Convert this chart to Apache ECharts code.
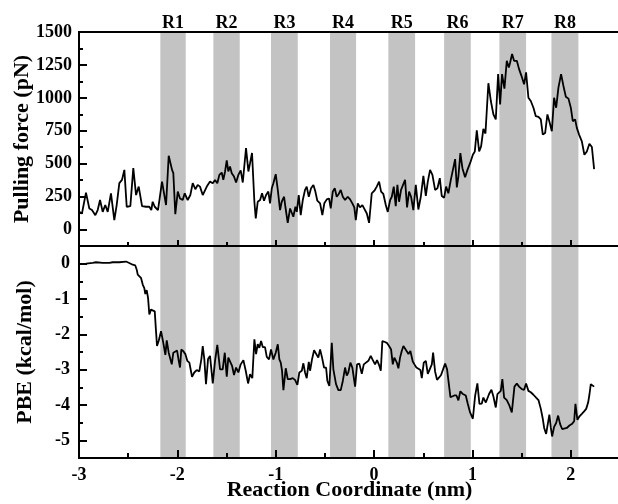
<!DOCTYPE html>
<html>
<head>
<meta charset="utf-8">
<script src="https://cdn.jsdelivr.net/npm/echarts@6/dist/echarts.min.js"></script>
<style>
  html, body { margin: 0; padding: 0; background: #fff; }
  #chart { width: 618px; height: 504px; }
</style>
</head>
<body>
<div id="chart"></div>
<script>
// pulling force (pN) vs reaction coordinate (nm)
var forceX = [-2.997,-2.970,-2.929,-2.895,-2.868,-2.834,-2.810,-2.786,-2.759,-2.733,
  -2.708,-2.675,-2.641,-2.617,-2.590,-2.563,-2.539,-2.515,-2.478,-2.448,
  -2.420,-2.393,-2.359,-2.319,-2.285,-2.265,-2.251,-2.230,-2.214,-2.197,
  -2.183,-2.156,-2.136,-2.115,-2.088,-2.054,-2.041,-2.021,-1.996,-1.973,
  -1.946,-1.925,-1.895,-1.868,-1.844,-1.817,-1.793,-1.770,-1.742,-1.701,
  -1.668,-1.640,-1.617,-1.594,-1.573,-1.549,-1.533,-1.515,-1.498,-1.482,
  -1.465,-1.447,-1.424,-1.403,-1.380,-1.356,-1.335,-1.302,-1.278,-1.261,
  -1.241,-1.217,-1.203,-1.183,-1.159,-1.139,-1.119,-1.098,-1.075,-1.058,
  -1.040,-1.024,-1.000,-0.979,-0.956,-0.939,-0.915,-0.902,-0.878,-0.854,
  -0.834,-0.821,-0.800,-0.786,-0.766,-0.746,-0.725,-0.702,-0.685,-0.664,
  -0.641,-0.617,-0.597,-0.577,-0.549,-0.526,-0.506,-0.481,-0.458,-0.441,
  -0.420,-0.400,-0.380,-0.359,-0.339,-0.318,
  -0.295,-0.268,-0.244,-0.221,-0.201,-0.186,-0.166,-0.143,-0.119,-0.099,
  -0.074,-0.051,-0.024,0.003,0.027,0.051,0.071,0.094,0.119,0.139,
  0.163,0.180,0.200,0.220,0.237,0.254,0.274,0.292,0.315,0.335,
  0.356,0.376,0.399,0.424,0.450,0.475,0.501,0.526,0.546,0.569,
  0.593,0.620,0.644,0.668,0.688,0.712,0.732,0.755,0.780,0.796,
  0.824,0.841,0.857,0.877,0.898,0.925,0.949,
  0.976,1.004,1.024,1.044,1.068,1.088,1.111,1.132,1.162,1.187,
  1.213,1.237,1.261,1.281,1.301,1.325,1.349,1.370,1.383,1.403,
  1.423,1.451,1.474,1.498,1.525,1.545,1.569,1.593,1.620,1.644,
  1.671,1.695,1.715,1.739,1.762,1.782,1.807,1.830,1.851,1.874,
  1.901,1.925,1.949,1.976,2.000,2.020,2.044,2.061,2.084,2.112,
  2.138,2.163,2.189,2.214,2.237];
var forceY = [134,122,280,160,148,109,148,224,134,186,
  134,275,71,186,352,377,453,173,178,466,
  262,326,178,173,173,148,211,173,186,148,
  134,364,377,186,560,453,428,117,288,236,
  224,275,224,262,352,306,339,326,262,326,
  364,352,377,352,415,433,377,441,525,441,
  479,428,402,357,415,449,357,619,441,504,
  581,211,84,211,224,275,219,262,288,199,
  313,352,420,301,148,211,249,173,51,160,
  122,97,173,134,262,109,224,301,326,249,
  313,339,288,219,199,109,199,229,236,160,
  288,313,249,270,301,249,
  224,249,229,199,168,71,199,168,186,178,
  122,51,275,295,326,364,288,270,186,134,
  224,249,326,178,339,211,301,313,377,168,
  288,249,147,339,152,249,407,255,364,453,
  415,301,313,390,255,242,326,275,377,390,
  535,320,402,581,466,397,453,
  504,568,593,754,593,631,764,729,1111,976,
  874,836,1180,950,1180,1070,1281,1231,1269,1333,
  1281,1281,1218,1167,1103,1193,1001,976,925,861,
  855,836,721,733,874,821,746,1001,925,1078,
  1180,1090,1009,994,925,823,836,772,721,670,
  568,593,652,627,459];

// PBE (kcal/mol) vs reaction coordinate (nm)
var pbeX = [-2.997,-2.929,-2.861,-2.827,-2.759,-2.692,-2.657,-2.590,-2.522,-2.489,
  -2.454,-2.428,-2.413,-2.403,-2.387,-2.370,-2.352,-2.336,-2.326,-2.312,
  -2.298,-2.285,-2.268,-2.251,-2.230,-2.217,-2.207,-2.190,-2.166,-2.143,
  -2.122,-2.108,-2.088,-2.068,-2.057,-2.041,-2.021,-2.003,-1.986,-1.973,
  -1.960,-1.939,-1.919,-1.899,-1.878,-1.851,-1.828,-1.803,-1.777,-1.756,
  -1.742,-1.726,-1.709,-1.688,
  -1.668,-1.640,-1.617,-1.594,-1.566,-1.539,-1.518,-1.498,-1.482,-1.465,
  -1.444,-1.424,-1.403,-1.380,-1.356,-1.329,-1.305,-1.281,-1.261,-1.238,
  -1.217,-1.200,-1.183,-1.167,-1.149,-1.132,-1.109,-1.091,-1.068,-1.048,
  -1.024,-1.000,-0.979,-0.963,-0.949,-0.936,-0.922,-0.898,-0.878,-0.854,
  -0.827,-0.804,-0.780,-0.760,-0.735,-0.719,-0.702,-0.685,-0.664,-0.651,
  -0.631,-0.610,-0.590,-0.567,-0.549,-0.529,-0.509,-0.488,-0.475,-0.455,
  -0.430,-0.414,-0.387,-0.363,-0.339,-0.318,
  -0.295,-0.278,-0.262,-0.241,-0.221,-0.193,-0.173,-0.150,-0.125,-0.105,
  -0.085,-0.058,-0.034,-0.013,0.010,0.030,0.051,0.068,0.084,0.105,
  0.129,0.152,0.173,0.190,0.206,0.231,0.247,0.264,0.281,0.298,
  0.315,0.335,0.349,0.369,0.393,0.410,0.430,0.450,0.471,0.485,
  0.505,0.526,0.546,0.566,0.587,0.600,0.620,0.640,0.661,0.681,
  0.701,0.722,0.742,0.762,0.776,0.796,0.816,0.837,0.857,0.877,
  0.898,0.918,0.932,0.953,
  0.976,1.004,1.027,1.050,1.071,1.095,1.111,1.136,1.152,1.169,
  1.193,1.213,1.237,1.254,1.274,1.288,1.304,1.322,1.349,1.376,
  1.400,1.427,1.451,1.474,1.502,1.525,1.545,1.569,1.593,1.620,
  1.647,1.671,1.695,1.715,1.729,1.749,1.762,1.782,1.797,1.810,
  1.830,1.851,1.871,1.891,1.912,1.932,1.959,1.986,2.010,2.034,
  2.047,2.067,2.088,2.112,2.135,2.156,2.176,2.189,2.203,2.217,
  2.237];
var pbeY = [-0.01,0.00,0.02,0.04,0.02,0.02,0.04,0.04,0.06,0.02,
  -0.03,-0.05,-0.17,-0.31,-0.29,-0.40,-0.59,-0.69,-0.86,-0.75,
  -0.97,-1.44,-1.30,-1.30,-1.35,-1.91,-2.33,-2.19,-1.91,-2.24,
  -2.58,-2.17,-2.52,-2.48,-2.85,-2.52,-2.56,-2.46,-2.75,-2.94,
  -2.43,-2.48,-2.56,-2.75,-2.80,-3.20,-3.08,-3.01,-3.05,-2.70,
  -2.33,-2.70,-3.41,-2.70,
  -2.61,-3.39,-2.75,-2.30,-2.99,-2.99,-2.52,-3.20,-2.66,-2.71,
  -2.89,-3.15,-2.94,-3.08,-2.85,-2.73,-3.03,-3.39,-3.13,-3.24,
  -2.14,-2.56,-2.28,-2.38,-2.19,-2.36,-2.36,-2.64,-2.71,-2.43,
  -2.71,-2.52,-2.28,-2.71,-2.80,-3.03,-3.58,-2.96,-3.27,-3.27,
  -3.24,-3.29,-3.43,-3.08,-3.03,-2.82,-3.08,-3.24,-2.78,-3.03,
  -2.71,-2.45,-2.40,-2.66,-2.43,-2.66,-2.94,-2.94,-3.32,-3.46,
  -2.24,-2.99,-3.41,-3.58,-3.58,-3.32,
  -2.94,-3.17,-3.08,-2.80,-2.94,-3.48,-2.85,-2.83,-3.12,-2.85,
  -2.80,-2.75,-2.61,-2.73,-2.85,-2.73,-2.87,-3.03,-2.19,-2.21,
  -2.24,-2.33,-2.43,-2.85,-2.66,-2.80,-2.96,-2.66,-2.47,-2.33,
  -2.38,-2.49,-2.56,-2.47,-2.77,-2.85,-2.94,-2.89,-3.01,-3.24,
  -2.80,-2.75,-3.12,-3.12,-2.85,-2.52,-3.05,-3.29,-3.22,-3.15,
  -3.12,-2.83,-2.99,-2.94,-3.78,-3.76,-3.73,-3.73,-3.87,-3.61,
  -3.68,-3.66,-3.73,-3.97,
  -4.21,-4.39,-3.74,-3.39,-3.97,-3.96,-3.79,-3.93,-3.97,-3.69,
  -3.57,-3.76,-4.07,-3.69,-3.71,-3.60,-3.27,-3.79,-3.86,-4.02,
  -4.21,-3.48,-3.39,-3.48,-3.55,-3.57,-3.39,-3.60,-3.64,-3.71,
  -3.79,-3.86,-4.11,-4.39,-4.65,-4.82,-4.82,-4.27,-4.65,-4.89,
  -4.62,-4.51,-4.30,-4.54,-4.68,-4.68,-4.65,-4.58,-4.54,-4.46,
  -3.97,-4.42,-4.32,-4.25,-4.18,-4.11,-3.93,-3.71,-3.41,-3.43,
  -3.48];

// shaded regions
var bandNames = ['R1', 'R2', 'R3', 'R4', 'R5', 'R6', 'R7', 'R8'];
var bandStart = [-2.173, -1.634, -1.048, -0.448, 0.145, 0.712, 1.274, 1.803];
var bandEnd = [-1.915, -1.366, -0.776, -0.183, 0.417, 0.983, 1.545, 2.077];

// ticks
var xMajor = [-3, -2, -1, 0, 1, 2];
var xMinor = [-2.5, -1.5, -0.5, 0.5, 1.5, 2.5];
var forceMajor = [0, 250, 500, 750, 1000, 1250, 1500];
var forceMinor = [125, 375, 625, 875, 1125, 1375];
var pbeMajor = [-5, -4, -3, -2, -1, 0];
var pbeMinor = [-4.5, -3.5, -2.5, -1.5, -0.5];

var FONT = 'Liberation Serif';

function zip(xs, ys) {
  var out = [];
  for (var i = 0; i < xs.length; i++) out.push([xs[i], ys[i]]);
  return out;
}

function bands(withLabel) {
  var list = [];
  for (var i = 0; i < bandNames.length; i++) {
    list.push([
      { name: withLabel ? bandNames[i] : '', xAxis: bandStart[i] },
      { xAxis: bandEnd[i] }
    ]);
  }
  return list;
}

function plain(v) {
  return String(v);
}

function xAx(grid, pos, ticks, len, opts) {
  var a = {
    type: 'value', gridIndex: grid, position: pos, min: -3, max: 2.5, z: 10,
    axisLine: { show: true, onZero: false, lineStyle: { color: '#000', width: 2 } },
    axisTick: { show: !!ticks, inside: true, length: len, customValues: ticks || [],
      lineStyle: { color: '#000', width: 2 } },
    axisLabel: { show: false },
    splitLine: { show: false }
  };
  if (opts) for (var k in opts) a[k] = opts[k];
  return a;
}

function yAx(grid, min, max, ticks, len, opts) {
  var a = {
    type: 'value', gridIndex: grid, position: 'left', min: min, max: max, z: 10,
    axisLine: { show: true, onZero: false, lineStyle: { color: '#000', width: 2 } },
    axisTick: { show: true, inside: true, length: len, customValues: ticks,
      lineStyle: { color: '#000', width: 2 } },
    axisLabel: { show: false },
    splitLine: { show: false }
  };
  if (opts) for (var k in opts) a[k] = opts[k];
  return a;
}

var labelStyle = { fontFamily: FONT, fontWeight: 'bold', fontSize: 18, color: '#000' };
var nameStyle = { fontFamily: FONT, fontWeight: 'bold', fontSize: 22, color: '#000' };

var myChart = echarts.init(document.getElementById('chart'));
var option = {
  animation: false,
  backgroundColor: '#fff',
  grid: [
    { left: 79, top: 32, width: 541, height: 214, containLabel: false, outerBoundsMode: 'none' },
    { left: 79, top: 246, width: 541, height: 212, containLabel: false, outerBoundsMode: 'none' }
  ],
  xAxis: [
    xAx(0, 'bottom', xMajor, 6),
    xAx(0, 'bottom', xMinor, 4),
    xAx(0, 'top', null, 0),
    xAx(1, 'bottom', xMajor, 8, {
      axisLabel: Object.assign({ show: true, margin: 8, customValues: xMajor, formatter: plain }, labelStyle),
      name: 'Reaction Coordinate (nm)',
      nameLocation: 'middle',
      nameGap: 21,
      nameMoveOverlap: false,
      nameTextStyle: nameStyle
    }),
    xAx(1, 'bottom', xMinor, 5)
  ],
  yAxis: [
    yAx(0, -125, 1500, forceMajor, 8, {
      axisLabel: Object.assign({ show: true, margin: 7, customValues: forceMajor, formatter: plain }, labelStyle),
      name: 'Pulling force (pN)',
      nameLocation: 'middle',
      nameGap: 46,
      nameMoveOverlap: false,
      nameTextStyle: nameStyle
    }),
    yAx(0, -125, 1500, forceMinor, 4),
    yAx(1, -5.5, 0.5, pbeMajor, 8, {
      axisLabel: Object.assign({ show: true, margin: 9, customValues: pbeMajor, formatter: plain }, labelStyle),
      name: 'PBE (kcal/mol)',
      nameLocation: 'middle',
      nameGap: 43,
      nameMoveOverlap: false,
      nameTextStyle: nameStyle
    }),
    yAx(1, -5.5, 0.5, pbeMinor, 4)
  ],
  series: [
    {
      name: 'Pulling force',
      type: 'line',
      xAxisIndex: 0,
      yAxisIndex: 0,
      data: zip(forceX, forceY),
      symbol: 'none',
      lineStyle: { color: '#000', width: 1.8 },
      markArea: {
        silent: true,
        itemStyle: { color: '#c3c3c3' },
        label: Object.assign({ show: true, position: 'top', distance: 0 }, labelStyle),
        data: bands(true)
      }
    },
    {
      name: 'PBE',
      type: 'line',
      xAxisIndex: 3,
      yAxisIndex: 2,
      data: zip(pbeX, pbeY),
      symbol: 'none',
      lineStyle: { color: '#000', width: 1.8 },
      markArea: {
        silent: true,
        itemStyle: { color: '#c3c3c3' },
        label: { show: false },
        data: bands(false)
      }
    }
  ]
};
myChart.setOption(option);
</script>
</body>
</html>
